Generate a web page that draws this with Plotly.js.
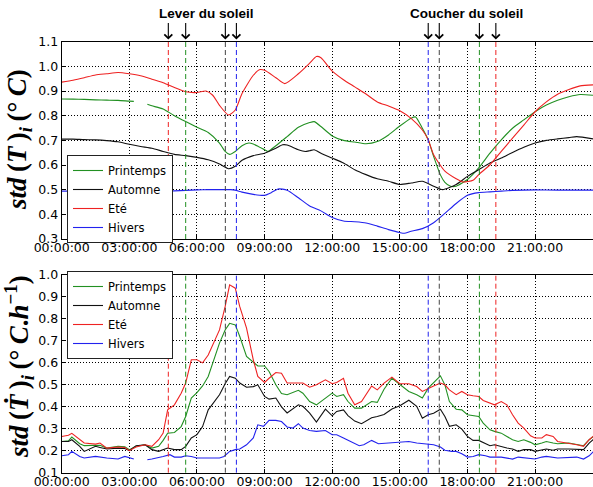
<!DOCTYPE html>
<html><head><meta charset="utf-8">
<script src="https://cdn.plot.ly/plotly-3.0.1.min.js"></script>
<style>html,body{margin:0;padding:0;background:#fff}</style>
</head><body><div id="chart" style="width:593px;height:487px"></div>
<script>
// ---------- DATA ----------
const seasons = ['Printemps', 'Automne', 'Eté', 'Hivers'];
const tickHours = [0, 3, 6, 9, 12, 15, 18, 21];
const tickLabels = ['00:00:00', '03:00:00', '06:00:00', '09:00:00', '12:00:00', '15:00:00', '18:00:00', '21:00:00'];
// sunrise / sunset hours, same order as seasons
const sunriseHours = [5.50, 7.26, 4.73, 7.75];
const sunsetHours = [18.53, 16.75, 19.26, 16.26];

// Top panel: std(T)_i
const tTopPrintemps = [0,0.5,1,1.5,2,2.5,3,3.2,3.5,3.8,4,4.5,5,5.5,6,6.5,7,7.25,7.45,7.7,8,8.3,8.5,9,9.15,9.5,10,10.5,11,11.2,11.5,12,12.5,13,13.5,14,14.5,15,15.5,15.7,16,16.26,16.5,16.8,17,17.25,17.5,18,18.5,19,19.5,20,20.5,21,21.5,22,22.5,23,23.57];
const topPrintemps = [0.868,0.867,0.866,0.864,0.863,0.862,0.859,0.858,null,0.846,0.84,0.827,0.80,0.776,0.753,0.732,0.689,0.655,0.643,0.655,0.678,0.689,0.685,0.662,0.655,0.678,0.715,0.753,0.772,0.776,0.756,0.718,0.70,0.693,0.686,0.695,0.722,0.758,0.79,0.795,0.749,0.702,0.635,0.56,0.53,0.514,0.514,0.541,0.588,0.648,0.702,0.749,0.783,0.816,0.843,0.863,0.877,0.886,0.883];
const tTopAutomne = [0,0.5,1,1.5,2,2.5,3,3.5,4,4.5,5,5.5,6,6.5,7,7.4,7.7,8,8.5,9,9.5,9.8,10,10.5,10.8,11,11.2,11.5,12,12.5,13,13.5,14,14.5,15,15.5,16,16.5,16.9,17.5,18,18.5,19,19.5,20,20.5,21,21.5,22,22.5,22.85,23.57];
const topAutomne = [0.705,0.705,0.703,0.702,0.699,0.694,0.684,0.675,0.668,0.655,0.643,0.638,0.631,0.621,0.604,0.585,0.595,0.619,0.638,0.648,0.668,0.682,0.681,0.662,0.655,0.658,0.662,0.648,0.628,0.608,0.581,0.561,0.544,0.534,0.521,0.527,0.534,0.514,0.50,0.521,0.554,0.581,0.608,0.628,0.651,0.672,0.689,0.70,0.706,0.711,0.715,0.706];
const tTopEte = [0,0.5,1,1.5,2,2.5,3,3.5,4,4.5,5,5.5,6,6.4,6.7,7,7.4,7.7,8,8.5,8.8,9,9.5,9.9,10.5,11,11.3,11.5,12,12.5,13,13.5,14,14.5,15,15.5,16,16.26,16.5,17,17.5,17.8,18.25,18.5,19,19.5,20,20.5,21,21.5,22,22.5,23,23.57];
const topEte = [0.936,0.944,0.954,0.965,0.970,0.975,0.970,0.962,0.948,0.934,0.914,0.897,0.894,0.90,0.883,0.842,0.803,0.823,0.89,0.964,0.987,0.984,0.954,0.930,0.970,1.013,1.04,1.035,0.981,0.946,0.917,0.888,0.856,0.839,0.82,0.789,0.742,0.702,0.642,0.575,0.544,0.531,0.538,0.561,0.601,0.655,0.709,0.762,0.816,0.856,0.887,0.906,0.921,0.925];
const tTopHivers = [0,1,2,3,3.2,3.5,3.8,4,4.6,5,5.5,6,6.5,7,7.5,7.69,8,8.5,9,9.3,9.6,10,10.5,11,11.5,12,12.5,13,13.5,14,14.5,15,15.2,15.5,16,16.5,17,17.5,18,18.5,19,19.5,20,21,22,23,23.57];
const topHivers = [0.494,0.494,0.494,0.494,0.494,null,0.494,0.494,0.494,0.495,0.497,0.499,0.50,0.50,0.50,0.498,0.49,0.481,0.477,0.488,0.503,0.498,0.467,0.434,0.414,0.387,0.373,0.37,0.365,0.352,0.338,0.326,0.323,0.331,0.342,0.366,0.404,0.444,0.477,0.488,0.491,0.494,0.497,0.499,0.498,0.498,0.498];

// Bottom panel: std(dT/dt)_i
const tBot = [0,0.3,0.45,0.8,1,1.5,1.7,2,2.5,2.8,3,3.3,3.7,4,4.3,4.5,4.7,5,5.3,5.5,5.75,6,6.25,6.5,7,7.25,7.45,7.7,7.9,8.2,8.5,8.7,9,9.2,9.5,9.75,10,10.5,10.7,11,11.3,11.7,12,12.2,12.5,12.7,13,13.3,13.75,14,14.3,14.65,15,15.4,15.75,16,16.26,16.5,16.8,17,17.2,17.5,17.75,18,18.25,18.5,18.7,19,19.2,19.5,19.75,20,20.25,20.5,20.8,21,21.3,21.5,21.8,22,22.5,22.85,23.15,23.4,23.6];
const botEte = [0.265,0.27,0.279,0.25,0.235,0.23,0.235,0.212,0.217,0.215,0.20,0.217,0.227,0.22,0.25,0.28,0.386,0.409,0.462,0.508,0.614,0.614,0.60,0.636,0.75,0.856,0.955,0.94,0.856,0.758,0.614,0.538,0.511,0.53,0.556,0.553,0.508,0.508,0.508,0.489,0.50,0.523,0.505,0.511,0.53,0.462,0.409,0.424,0.495,0.477,0.508,0.535,0.505,0.505,0.492,0.47,0.485,0.495,0.508,0.50,0.477,0.455,0.47,0.455,0.45,0.447,0.429,0.417,0.409,0.424,0.409,0.364,0.326,0.303,0.268,0.258,0.258,0.273,0.265,0.242,0.235,0.227,0.22,0.25,0.268];
const botPrintemps = [0.242,0.245,0.262,0.232,0.223,0.223,0.225,0.212,0.22,0.218,0.205,0.22,0.227,0.212,0.22,0.247,0.28,0.283,0.31,0.356,0.44,0.465,0.495,0.538,0.69,0.75,0.78,0.773,0.72,0.629,0.601,0.586,0.586,0.561,0.50,0.46,0.455,0.475,0.462,0.424,0.409,0.44,0.462,0.447,0.455,0.424,0.394,0.394,0.424,0.42,0.48,0.53,0.50,0.47,0.455,0.44,0.485,0.508,0.541,0.50,0.424,0.389,0.386,0.364,0.359,0.356,0.326,0.295,0.288,0.28,0.265,0.25,0.242,0.25,0.238,0.227,0.235,0.242,0.235,0.232,0.235,0.227,0.223,0.25,0.265];
const botAutomne = [0.242,0.242,0.25,0.22,0.197,0.22,0.215,0.208,0.212,0.21,0.20,0.223,0.227,0.205,0.197,0.205,0.212,0.205,0.205,0.22,0.258,0.273,0.31,0.386,0.455,0.505,0.538,0.53,0.508,0.489,0.492,0.50,0.447,0.435,0.44,0.40,0.372,0.409,0.402,0.371,0.33,0.389,0.359,0.379,0.386,0.36,0.335,0.323,0.35,0.356,0.365,0.39,0.405,0.43,0.402,0.348,0.364,0.371,0.389,0.356,0.311,0.318,0.298,0.265,0.247,0.247,0.238,0.223,0.227,0.217,0.212,0.208,0.197,0.205,0.205,0.197,0.205,0.208,0.202,0.208,0.208,0.205,0.205,0.235,0.253];
const tBotHivers = [0,0.3,0.45,0.8,1,1.5,2,2.5,2.8,3,3.2,3.5,3.8,4,4.5,4.8,5,5.3,5.5,5.75,6,6.5,7,7.2,7.45,7.7,7.9,8.2,8.5,8.7,8.95,9.2,9.5,9.75,10,10.25,10.5,10.7,11,11.3,11.7,12,12.2,12.5,12.8,13.2,13.4,13.75,14.05,14.5,15,15.4,15.75,16,16.26,16.5,16.8,17,17.3,17.5,17.75,18,18.25,18.5,18.8,19,19.5,19.75,20,20.25,20.5,21,21.3,21.5,22,22.5,22.85,23.15,23.4,23.6];
const botHivers = [0.177,0.182,0.197,0.174,0.167,0.174,0.167,0.162,0.174,0.168,0.162,null,0.159,0.162,0.174,0.182,0.171,0.171,0.177,0.174,0.167,0.167,0.167,0.174,0.197,0.205,0.208,0.227,0.258,0.318,0.311,0.338,0.338,0.333,0.308,0.303,0.323,0.303,0.292,0.288,0.292,0.273,0.273,0.258,0.242,0.223,0.227,0.247,0.232,0.235,0.238,0.242,0.235,0.232,0.227,0.227,0.217,0.202,0.197,0.197,0.186,0.171,0.174,0.182,0.177,0.171,0.171,0.167,0.162,0.171,0.168,0.162,0.171,0.174,0.167,0.171,0.171,0.162,0.177,0.197];

// ---------- STYLE ----------
const colors = ['#229022', '#111111', '#ee2222', '#2222ee'];
const dashColors = ['#229022', '#444444', '#ee2222', '#2222ee'];
const W = 593, H = 487;
const px = v => v / W, py = v => 1 - v / H;

const topX = [tTopPrintemps, tTopAutomne, tTopEte, tTopHivers];
const topY = [topPrintemps, topAutomne, topEte, topHivers];
const botX = [tBot, tBot, tBot, tBotHivers];
const botY = [botPrintemps, botAutomne, botEte, botHivers];

const traces = [];
seasons.forEach((s, i) => {
  traces.push({x: topX[i], y: topY[i], name: s, type: 'scatter', mode: 'lines',
    xaxis: 'x', yaxis: 'y', legend: 'legend', connectgaps: false,
    line: {color: colors[i], width: 1.1, shape: 'spline', smoothing: 0.6}});
});
seasons.forEach((s, i) => {
  traces.push({x: botX[i], y: botY[i], name: s, type: 'scatter', mode: 'lines',
    xaxis: 'x2', yaxis: 'y2', legend: 'legend2', connectgaps: false,
    line: {color: colors[i], width: 1.1}});
});

const shapes = [];
const annotations = [];
seasons.forEach((s, i) => {
  [sunriseHours[i], sunsetHours[i]].forEach(h => {
    shapes.push({type: 'line', xref: 'x', yref: 'y domain', x0: h, x1: h, y0: 0, y1: 1,
      line: {color: dashColors[i], width: 1, dash: '5px,3px'}});
    shapes.push({type: 'line', xref: 'x2', yref: 'y2 domain', x0: h, x1: h, y0: 0, y1: 1,
      line: {color: dashColors[i], width: 1, dash: '5px,3px'}});
    annotations.push({xref: 'x', yref: 'paper', x: h, y: py(39.5), text: '', showarrow: true,
      ax: 0, ay: -18, arrowhead: 4, arrowsize: 1.4, arrowwidth: 1.1, arrowcolor: '#000'});
  });
});
annotations.push({xref: 'paper', yref: 'paper', x: px(206), y: py(14), text: '<b>Lever du soleil</b>',
  showarrow: false, xanchor: 'center', yanchor: 'middle', font: {family: 'Liberation Sans', size: 13.5, color: '#000'}});
annotations.push({xref: 'paper', yref: 'paper', x: px(466), y: py(14), text: '<b>Coucher du soleil</b>',
  showarrow: false, xanchor: 'center', yanchor: 'middle', font: {family: 'Liberation Sans', size: 13.5, color: '#000'}});
annotations.push({xref: 'paper', yref: 'paper', x: px(19), y: py(140), textangle: -90,
  text: '<b><i>std</i>\u2009(<i>T</i>\u2009)<sub><i>i</i></sub>\u2009(°\u2009<i>C</i>)</b>', showarrow: false,
  xanchor: 'center', yanchor: 'middle', font: {family: 'Liberation Serif', size: 27, color: '#000'}});
annotations.push({xref: 'paper', yref: 'paper', x: px(19), y: py(367), textangle: -90,
  text: '<b><i>std</i>\u2009(<i>Ṫ</i>\u2009)<sub><i>i</i></sub>\u2009(°\u2009<i>C</i>.<i>h</i><sup>−1</sup>)</b>', showarrow: false,
  xanchor: 'center', yanchor: 'middle', font: {family: 'Liberation Serif', size: 27, color: '#000'}});

const tickFont = {family: 'DejaVu Sans', size: 12.5, color: '#000'};
const xBase = {range: [0, 23.57], tickvals: tickHours, ticktext: tickLabels, showgrid: true,
  gridcolor: '#000', griddash: '1px,2px', gridwidth: 1, showline: true, linecolor: '#000', linewidth: 1,
  mirror: 'ticks', zeroline: false, ticks: 'inside', ticklen: 4, tickcolor: '#000', ticklabelstandoff: -3,
  tickfont: tickFont, domain: [px(61.7), 1], fixedrange: true};
const yBase = {showgrid: true, gridcolor: '#000', griddash: '1px,2px', gridwidth: 1, showline: true,
  linecolor: '#000', linewidth: 1, zeroline: false, ticks: 'inside', ticklen: 4, tickcolor: '#000',
  tickfont: tickFont, dtick: 0.1, tickformat: '.1f', fixedrange: true};

const legendBase = {bgcolor: '#fff', bordercolor: '#222', borderwidth: 1, xanchor: 'left', yanchor: 'middle',
  font: {family: 'DejaVu Sans', size: 11.5, color: '#000'}, itemwidth: 30, tracegroupgap: 0};

const layout = {
  width: W, height: H, margin: {l: 0, r: 0, t: 0, b: 0}, paper_bgcolor: '#fff', plot_bgcolor: '#fff',
  hovermode: false, showlegend: true,
  xaxis: Object.assign({}, xBase, {anchor: 'y'}),
  yaxis: Object.assign({}, yBase, {anchor: 'x', range: [0.2999, 1.1001], domain: [py(239), py(41.7)]}),
  xaxis2: Object.assign({}, xBase, {anchor: 'y2'}),
  yaxis2: Object.assign({}, yBase, {anchor: 'x2', range: [0.0999, 1.0001], domain: [py(472.7), py(275)]}),
  legend: Object.assign({}, legendBase, {x: px(67), y: py(199)}),
  legend2: Object.assign({}, legendBase, {x: px(67), y: py(315)}),
  shapes: shapes, annotations: annotations
};

Plotly.newPlot('chart', traces, layout, {displayModeBar: false, staticPlot: true});
</script></body></html>
